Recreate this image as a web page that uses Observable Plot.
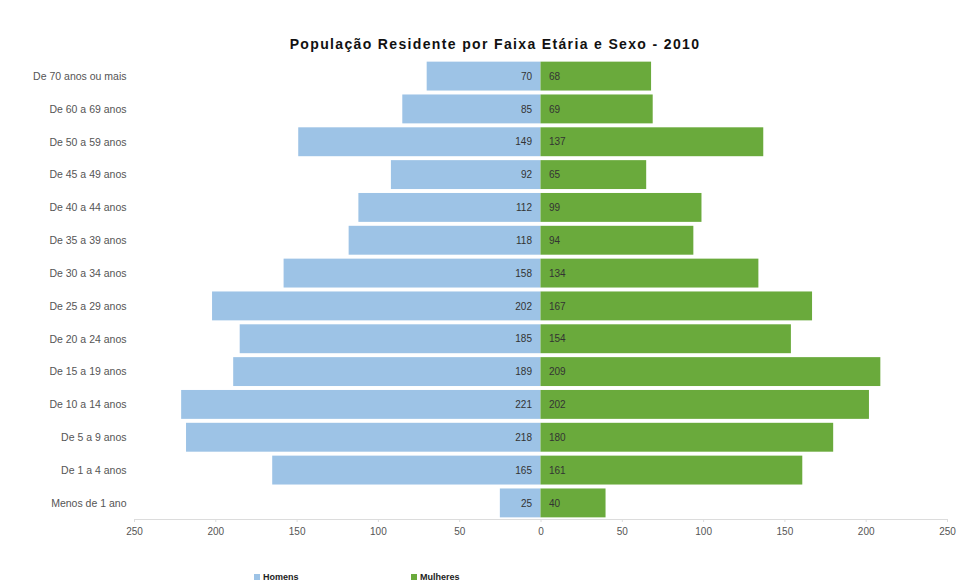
<!DOCTYPE html>
<html>
<head>
<meta charset="utf-8">
<script src="https://cdn.jsdelivr.net/npm/d3@7"></script>
<script src="https://cdn.jsdelivr.net/npm/@observablehq/plot@0.6"></script>
<style>
  body { margin: 0; background: #fff; font-family: "Liberation Sans", Arial, sans-serif; }
  #title { height: 56px; position: relative; }
  #title span { position: absolute; left: 0; width: 990px; top: 36px; text-align: center; font-weight: bold; font-size: 14px; letter-spacing: 1.35px; color: #111; }
  #legend { position: relative; height: 38px; font-size: 9px; font-weight: bold; color: #222; }
  .li { position: absolute; top: 28px; display: flex; align-items: center; }
  .sw { width: 6px; height: 6px; margin-right: 3px; display: inline-block; }
</style>
</head>
<body>
<div id="title"><span>População Residente por Faixa Etária e Sexo - 2010</span></div>
<div id="chart"></div>
<div id="legend"></div>
<script>
const ages = [
  "De 70 anos ou mais", "De 60 a 69 anos", "De 50 a 59 anos", "De 45 a 49 anos",
  "De 40 a 44 anos", "De 35 a 39 anos", "De 30 a 34 anos", "De 25 a 29 anos",
  "De 20 a 24 anos", "De 15 a 19 anos", "De 10 a 14 anos", "De 5 a 9 anos",
  "De 1 a 4 anos", "Menos de 1 ano"
];
const homens   = [70, 85, 149, 92, 112, 118, 158, 202, 185, 189, 221, 218, 165, 25];
const mulheres = [68, 69, 137, 65, 99, 94, 134, 167, 154, 209, 202, 180, 161, 40];
const series = ["Homens", "Mulheres"];
const colors = ["#9dc3e6", "#6aaa3c"];
const xTicks = [-250, -200, -150, -100, -50, 0, 50, 100, 150, 200, 250];

const data = [];
ages.forEach((a, i) => {
  data.push({age: a, sexo: "Homens", v: homens[i], x: -homens[i]});
  data.push({age: a, sexo: "Mulheres", v: mulheres[i], x: mulheres[i]});
});

const chart = Plot.plot({
  width: 958,
  height: 488,
  marginLeft: 134,
  marginRight: 11,
  marginTop: 4,
  marginBottom: 25,
  style: {fontFamily: "'Liberation Sans', Arial, sans-serif", background: "#fff"},
  x: {domain: [-250, 250], ticks: xTicks, tickFormat: d => Math.abs(d), label: null},
  y: {domain: ages, paddingInner: 0.12, paddingOuter: 0.05, round: false, label: null},
  color: {domain: series, range: colors},
  marks: [
    Plot.frame({anchor: "bottom", stroke: "#dcdcdc"}),
    Plot.barX(data, {x: "x", y: "age", fill: "sexo"}),
    Plot.text(data.filter(d => d.sexo === "Homens"), {x: 0, y: "age", text: "v", textAnchor: "end", dx: -9, fontSize: 10, fill: "#333"}),
    Plot.text(data.filter(d => d.sexo === "Mulheres"), {x: 0, y: "age", text: "v", textAnchor: "start", dx: 8, fontSize: 10, fill: "#333"}),
    Plot.axisX({ticks: xTicks, tickFormat: d => Math.abs(d), tickSize: 3, tickPadding: 5, stroke: "#dcdcdc", fill: "#555", fontSize: 10, label: null}),
    Plot.axisY({tickSize: 0, tickPadding: 8, fill: "#555", fontSize: 10.5, label: null})
  ]
});
document.getElementById("chart").appendChild(chart);

const legend = document.getElementById("legend");
const lx = [254, 411];
series.forEach((s, i) => {
  const d = document.createElement("div");
  d.className = "li";
  d.style.left = lx[i] + "px";
  d.innerHTML = `<span class="sw" style="background:${colors[i]}"></span>${s}`;
  legend.appendChild(d);
});
</script>
</body>
</html>
